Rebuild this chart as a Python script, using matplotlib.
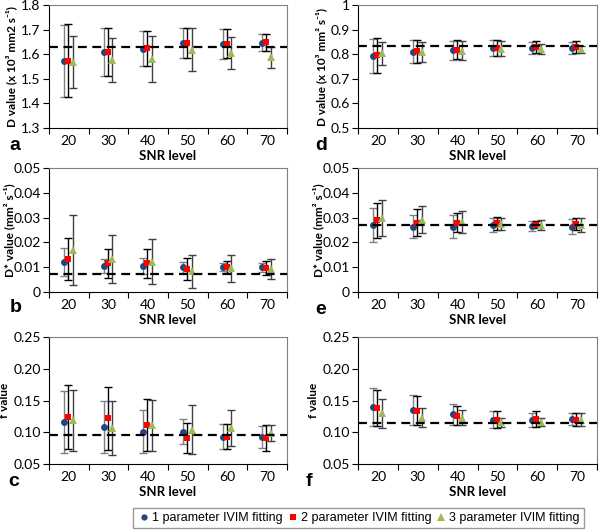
import matplotlib.pyplot as plt
from matplotlib.lines import Line2D
import numpy as np

snr = ["20", "30", "40", "50", "60", "70"]
series_names = ["1 parameter IVIM fitting", "2 parameter IVIM fitting", "3 parameter IVIM fitting"]

# panel a: D value (x 10^3)
a_mean = [[1.572, 1.609, 1.622, 1.645, 1.642, 1.647],
          [1.573, 1.610, 1.625, 1.646, 1.643, 1.648],
          [1.568, 1.576, 1.581, 1.618, 1.605, 1.587]]
a_sd = [[0.148, 0.097, 0.071, 0.060, 0.060, 0.035],
        [0.148, 0.097, 0.071, 0.060, 0.060, 0.035],
        [0.105, 0.089, 0.094, 0.088, 0.065, 0.042]]
a_ref = 1.631

# panel d
d_mean = [[0.793, 0.810, 0.816, 0.824, 0.826, 0.826],
          [0.795, 0.811, 0.819, 0.825, 0.829, 0.828],
          [0.803, 0.808, 0.815, 0.823, 0.820, 0.820]]
d_sd = [[0.070, 0.046, 0.038, 0.032, 0.025, 0.025],
        [0.070, 0.046, 0.038, 0.032, 0.025, 0.025],
        [0.047, 0.040, 0.040, 0.030, 0.020, 0.015]]
d_ref = 0.834

# panel b: D* value
b_mean = [[0.0122, 0.0105, 0.0105, 0.0099, 0.0101, 0.0099],
          [0.0132, 0.0115, 0.0115, 0.0092, 0.0101, 0.0097],
          [0.0169, 0.0132, 0.0122, 0.0084, 0.0095, 0.0093]]
b_sd = [[0.0057, 0.0030, 0.0033, 0.0022, 0.0015, 0.0018],
        [0.0085, 0.0060, 0.0057, 0.0045, 0.0025, 0.0030],
        [0.0140, 0.0097, 0.0090, 0.0066, 0.0055, 0.0040]]
b_ref = 0.0073

# panel e
e_mean = [[0.0270, 0.0264, 0.0264, 0.0270, 0.0265, 0.0264],
          [0.0289, 0.0280, 0.0280, 0.0277, 0.0272, 0.0275],
          [0.0300, 0.0291, 0.0282, 0.0274, 0.0270, 0.0270]]
e_sd = [[0.0067, 0.0045, 0.0045, 0.0030, 0.0020, 0.0030],
        [0.0071, 0.0055, 0.0040, 0.0025, 0.0015, 0.0025],
        [0.0073, 0.0055, 0.0045, 0.0025, 0.0020, 0.0030]]
e_ref = 0.0270

# panel c: f value
c_mean = [[0.116, 0.108, 0.101, 0.101, 0.093, 0.093],
          [0.124, 0.122, 0.112, 0.091, 0.093, 0.091],
          [0.119, 0.107, 0.111, 0.104, 0.107, 0.099]]
c_sd = [[0.049, 0.041, 0.034, 0.020, 0.020, 0.017],
        [0.050, 0.050, 0.041, 0.024, 0.020, 0.021],
        [0.048, 0.043, 0.040, 0.039, 0.028, 0.012]]
c_ref = 0.096

# panel f
f_mean = [[0.140, 0.135, 0.128, 0.120, 0.120, 0.121],
          [0.138, 0.134, 0.126, 0.120, 0.121, 0.120],
          [0.130, 0.123, 0.123, 0.116, 0.116, 0.120]]
f_sd = [[0.030, 0.024, 0.016, 0.013, 0.011, 0.010],
        [0.028, 0.023, 0.015, 0.013, 0.012, 0.010],
        [0.023, 0.015, 0.012, 0.007, 0.006, 0.010]]
f_ref = 0.114

colors = ["#24467E", "#FF0000", "#9BBB59"]
markers = ["o", "s", "^"]
msizes = [5.0, 4.8, 6.0]
err_colors = ["#808080", "#000000", "#404040"]
offsets = [-0.12, -0.02, 0.10]

tick_font = "Lato"
label_font = ["Lato", "DejaVu Sans"]

fig = plt.figure(figsize=(6.02, 5.32), dpi=100)


def draw_panel(rect, means, sds, ref, ylim, yticks, ytick_fmt, ylabel, label_x, letter, letter_xy):
    ax = fig.add_axes(rect)
    x = np.arange(len(snr))
    for i in range(3):
        ax.errorbar(x + offsets[i], means[i], yerr=sds[i], fmt="none",
                    ecolor=err_colors[i], elinewidth=1.0, capsize=3, capthick=1.0, zorder=2)
    for i in range(3):
        ax.plot(x + offsets[i], means[i], linestyle="none", marker=markers[i],
                color=colors[i], markersize=msizes[i], markeredgewidth=0, zorder=3)
    ax.axhline(ref, color="black", linestyle=(0, (4, 2.5)), linewidth=1.6, zorder=4)
    ax.set_xlim(-0.5, 5.5)
    ax.set_ylim(*ylim)
    ax.set_yticks(yticks)
    ax.set_yticklabels([ytick_fmt.format(v) for v in yticks], fontsize=10, family=tick_font)
    ax.set_xticks(np.arange(-0.5, 6.0, 1.0))
    ax.set_xticklabels([])
    ax.set_xticks(x, minor=True)
    ax.set_xticklabels(snr, minor=True, fontsize=10, family=tick_font)
    ax.tick_params(axis="x", which="major", direction="out", length=4, color="black")
    ax.tick_params(axis="x", which="minor", length=0, pad=5)
    ax.tick_params(axis="y", direction="out", length=4, pad=2)
    ax.spines["top"].set_color("#808080")
    ax.spines["right"].set_color("#808080")
    ax.set_xlabel("SNR level", fontsize=9.5, fontweight="bold", family=tick_font, labelpad=2)
    ax.set_ylabel(ylabel, fontsize=8.5, fontweight="bold", family=label_font)
    ax.yaxis.set_label_coords(label_x, 0.5)
    fig.text(letter_xy[0], letter_xy[1], letter, fontsize=14, fontweight="bold",
             family="Liberation Sans", ha="left", va="center")
    return ax


col_l = [0.0814, 0.395]
col_r = [0.5947, 0.397]
row_top = [0.7594, 0.2312]
row_mid = [0.4511, 0.2331]
row_bot = [0.1278, 0.2387]

draw_panel([col_l[0], row_top[0], col_l[1], row_top[1]], a_mean, a_sd, a_ref,
           (1.3, 1.8), [1.3, 1.4, 1.5, 1.6, 1.7, 1.8], "{:.1f}",
           "D value (x 10³ mm2 s⁻¹)", -0.134, "a", (0.016, 1 - 146 / 532))
draw_panel([col_r[0], row_top[0], col_r[1], row_top[1]], d_mean, d_sd, d_ref,
           (0.5, 1.0), [0.5, 0.6, 0.7, 0.8, 0.9, 1.0], "{:g}",
           "D value (x 10³ mm² s⁻¹)", -0.13, "d", (0.524, 1 - 146 / 532))
draw_panel([col_l[0], row_mid[0], col_l[1], row_mid[1]], b_mean, b_sd, b_ref,
           (0, 0.05), [0, 0.01, 0.02, 0.03, 0.04, 0.05], "{:g}",
           "D* value (mm² s⁻¹)", -0.143, "b", (0.016, 1 - 308 / 532))
draw_panel([col_r[0], row_mid[0], col_r[1], row_mid[1]], e_mean, e_sd, e_ref,
           (0, 0.05), [0, 0.01, 0.02, 0.03, 0.04, 0.05], "{:g}",
           "D* value (mm² s⁻¹)", -0.142, "e", (0.524, 1 - 309 / 532))
draw_panel([col_l[0], row_bot[0], col_l[1], row_bot[1]], c_mean, c_sd, c_ref,
           (0.05, 0.25), [0.05, 0.10, 0.15, 0.20, 0.25], "{:.2f}",
           "f value", -0.164, "c", (0.014, 1 - 482 / 532))
draw_panel([col_r[0], row_bot[0], col_r[1], row_bot[1]], f_mean, f_sd, f_ref,
           (0.05, 0.25), [0.05, 0.10, 0.15, 0.20, 0.25], "{:.2f}",
           "f value", -0.162, "f", (0.507, 1 - 481 / 532))

handles = [Line2D([], [], linestyle="none", marker=markers[i], color=colors[i],
                  markersize=msizes[i] - 0.5, markeredgewidth=0) for i in range(3)]
leg = fig.legend(handles, series_names, loc="center", bbox_to_anchor=(0.596, 1 - 518 / 532),
                 ncol=3, frameon=True, fancybox=False, edgecolor="#808080",
                 prop={"family": "Liberation Sans", "size": 9},
                 handletextpad=0.15, columnspacing=0.3, handlelength=1.0,
                 borderpad=0.35, borderaxespad=0)
leg.get_frame().set_linewidth(1.0)

fig.savefig("out.png", dpi=100)
